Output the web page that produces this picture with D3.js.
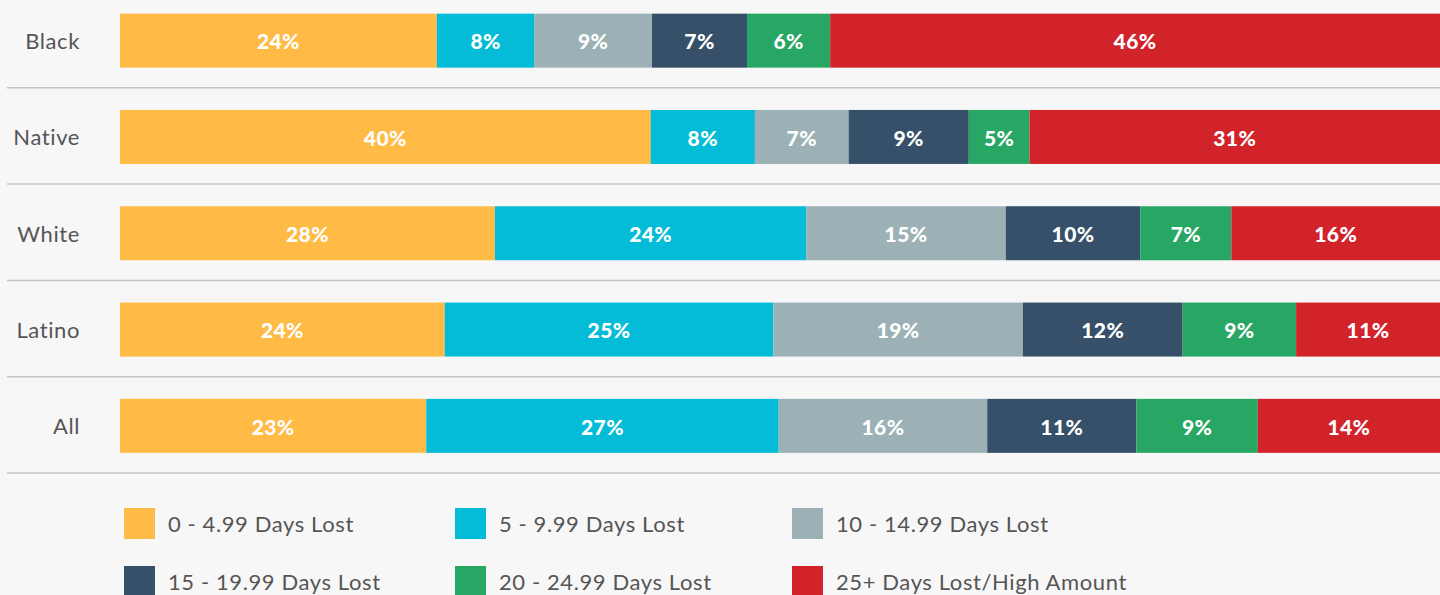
<!DOCTYPE html>
<html>
<head>
<meta charset="utf-8">
<script src="https://cdn.jsdelivr.net/npm/d3@7"></script>
<style>
  body { margin: 0; background: #f7f7f7; }
  svg { display: block; }
</style>
</head>
<body>
<div id="chart"></div>
<script>
// Share of students by days lost, per group (bar widths)
const groups = ["Black", "Native", "White", "Latino", "All"];
const seriesNames = [
    "0 - 4.99 Days Lost",
    "5 - 9.99 Days Lost",
    "10 - 14.99 Days Lost",
    "15 - 19.99 Days Lost",
    "20 - 24.99 Days Lost",
    "25+ Days Lost/High Amount"
];
const colors = ["#ffbb46", "#04bcd7", "#9cb1b5", "#355068", "#28a663", "#d2232a"];

const shares = [
    [24.0, 7.4, 8.9, 7.2, 6.3, 46.2],
    [40.2, 7.9, 7.1, 9.1, 4.6, 31.1],
    [28.4, 23.6, 15.1, 10.2, 6.9, 15.8],
    [24.6, 24.9, 18.9, 12.1, 8.6, 10.9],
    [23.2, 26.7, 15.8, 11.3, 9.2, 13.8]
];
// printed labels on each segment
const shareLabels = [
    ["24%", "8%", "9%", "7%", "6%", "46%"],
    ["40%", "8%", "7%", "9%", "5%", "31%"],
    ["28%", "24%", "15%", "10%", "7%", "16%"],
    ["24%", "25%", "19%", "12%", "9%", "11%"],
    ["23%", "27%", "16%", "11%", "9%", "14%"]
];

const width = 1440, height = 595;
const font = "Lato, 'Open Sans', sans-serif";

const svg = d3.select("#chart")
    .append("svg")
    .attr("width", width)
    .attr("height", height);

svg.append("rect")
    .attr("width", width)
    .attr("height", height)
    .attr("fill", "#f7f7f7");

const x = d3.scaleLinear()
    .domain([0, 100])
    .range([120, 1440]);

const y = d3.scaleBand()
    .domain(groups)
    .range([-7.5, 474]);

const barH = 54;

// build stacked rows
const rows = groups.map((g, i) => {
    let acc = 0;
    return shares[i].map((v, j) => {
        const seg = { group: g, series: j, x0: acc, x1: acc + v, label: shareLabels[i][j] };
        acc += v;
        return seg;
    });
});

const rowG = svg.selectAll(".row")
    .data(rows)
    .enter()
    .append("g")
    .attr("class", "row")
    .attr("transform", (d, i) => `translate(0, ${y(groups[i]) + y.bandwidth() / 2})`);

// separator lines under each row
rowG.append("line")
    .attr("x1", 7)
    .attr("x2", width)
    .attr("y1", y.bandwidth() / 2 - 1)
    .attr("y2", y.bandwidth() / 2 - 1)
    .attr("stroke", "#c4c4c4")
    .attr("stroke-width", 1.5);

// row labels
rowG.append("text")
    .attr("x", 80)
    .attr("y", 0)
    .attr("dy", "0.38em")
    .attr("text-anchor", "end")
    .attr("fill", "#555")
    .style("font-family", font)
    .style("font-size", "22px")
    .style("letter-spacing", "0.6px")
    .text((d, i) => groups[i]);

rowG.selectAll("rect")
    .data(d => d)
    .enter()
    .append("rect")
    .attr("x", d => x(d.x0))
    .attr("y", -barH / 2)
    .attr("width", d => x(d.x1) - x(d.x0))
    .attr("height", barH)
    .attr("fill", d => colors[d.series]);

rowG.selectAll(".val")
    .data(d => d)
    .enter()
    .append("text")
    .attr("class", "val")
    .attr("x", d => (x(d.x0) + x(d.x1)) / 2)
    .attr("y", 0)
    .attr("dy", "0.42em")
    .attr("text-anchor", "middle")
    .attr("fill", "#fff")
    .style("font-family", font)
    .style("font-weight", "900")
    .style("font-size", "21px")
    .style("letter-spacing", "0.4px")
    .text(d => d.label);

// legend
const legendX = [124, 455, 792];
const legendY = [508, 566];

const legend = svg.selectAll(".legend")
    .data(seriesNames)
    .enter()
    .append("g")
    .attr("class", "legend")
    .attr("transform", (d, i) => `translate(${legendX[i % 3]}, ${legendY[Math.floor(i / 3)]})`);

legend.append("rect")
    .attr("width", 31)
    .attr("height", 31)
    .attr("fill", (d, i) => colors[i]);

legend.append("text")
    .attr("x", 44)
    .attr("y", 16)
    .attr("dy", "0.38em")
    .attr("fill", "#555")
    .style("font-family", font)
    .style("font-size", "22px")
    .style("letter-spacing", "0.6px")
    .text(d => d);
</script>
</body>
</html>
